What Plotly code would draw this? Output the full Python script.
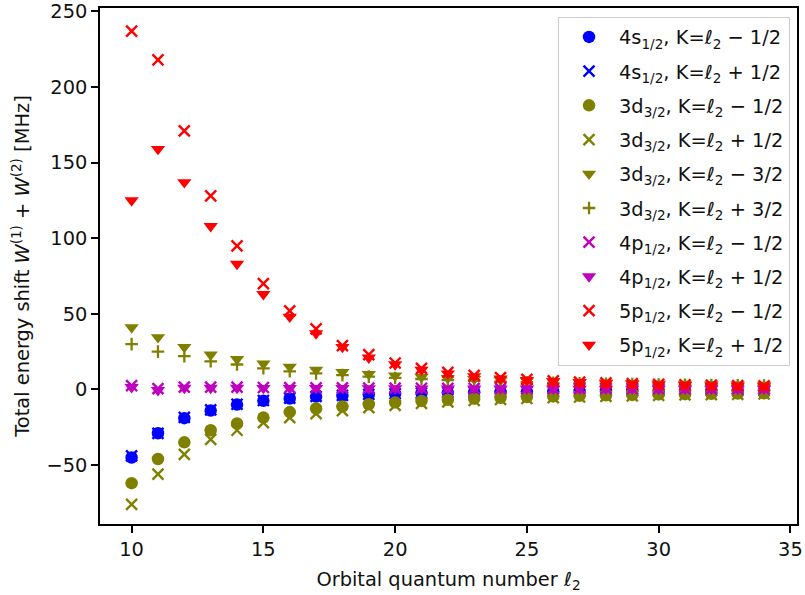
import plotly.graph_objects as go

l2 = list(range(10, 35))

s4_minus = [-45, -29, -19, -14, -10, -7.5, -6, -4.7, -4, -3.3, -2.8, -2.4, -2.1, -1.8, -1.6, -1.4, -1.3, -1.1, -1.0, -0.9, -0.85, -0.8, -0.7, -0.65, -0.6]
s4_plus = [-44, -29, -18.5, -13.5, -9.8, -7.3, -5.8, -4.6, -3.9, -3.2, -2.7, -2.3, -2.0, -1.8, -1.5, -1.4, -1.2, -1.1, -1.0, -0.9, -0.8, -0.75, -0.7, -0.6, -0.55]
d3_minus = [-62, -46, -35, -27, -22.5, -18.6, -15, -12.6, -11.3, -9.8, -8.6, -7.6, -6.8, -6.1, -5.5, -5.0, -4.6, -4.2, -3.9, -3.6, -3.3, -3.1, -2.9, -2.7, -2.5]
d3_plus = [-76, -56, -43, -33, -27, -22, -18.6, -16, -14, -12, -10.5, -9.2, -8.2, -7.3, -6.6, -6.0, -5.4, -5.0, -4.6, -4.2, -3.9, -3.6, -3.4, -3.2, -3.0]
d3_minus3 = [41, 34.5, 28, 23, 20, 17, 15, 13, 11.5, 10.2, 9.2, 8.3, 7.5, 6.8, 6.2, 5.7, 5.3, 4.9, 4.5, 4.2, 3.9, 3.7, 3.4, 3.2, 3.0]
d3_plus3 = [30, 25, 22, 18.6, 16.5, 14, 12, 10.6, 9.5, 8.5, 7.6, 6.9, 6.2, 5.7, 5.2, 4.8, 4.4, 4.1, 3.8, 3.5, 3.3, 3.1, 2.9, 2.7, 2.5]
p4_minus = [2.5, 0.5, 1.5, 1.5, 1.5, 1.3, 1.2, 1.1, 1.0, 0.9, 0.85, 0.8, 0.75, 0.7, 0.65, 0.6, 0.55, 0.5, 0.5, 0.45, 0.45, 0.4, 0.4, 0.35, 0.35]
p4_plus = [1.5, -0.5, 1.0, 1.0, 1.0, 0.9, 0.9, 0.8, 0.8, 0.7, 0.7, 0.6, 0.6, 0.55, 0.5, 0.5, 0.45, 0.45, 0.4, 0.4, 0.35, 0.35, 0.3, 0.3, 0.3]
p5_minus = [237, 218, 171, 128, 95, 70, 52, 40, 29, 23, 17.5, 14, 11.3, 9.3, 7.8, 6.6, 5.7, 4.9, 4.3, 3.8, 3.4, 3.1, 2.8, 2.5, 2.3]
p5_plus = [125, 159, 137, 108, 83, 63, 48, 37, 28, 21, 16.5, 13, 10.5, 8.6, 7.2, 6.1, 5.3, 4.6, 4.0, 3.6, 3.2, 2.9, 2.6, 2.3, 2.1]

BLUE = "#0000ff"
OLIVE = "#808000"
MAG = "#bf00bf"
RED = "#ff0000"

series = [
    ("4s<sub>1/2</sub>, K=<i>ℓ</i><sub>2</sub> − 1/2", s4_minus, BLUE, "circle"),
    ("4s<sub>1/2</sub>, K=<i>ℓ</i><sub>2</sub> + 1/2", s4_plus, BLUE, "x-thin"),
    ("3d<sub>3/2</sub>, K=<i>ℓ</i><sub>2</sub> − 1/2", d3_minus, OLIVE, "circle"),
    ("3d<sub>3/2</sub>, K=<i>ℓ</i><sub>2</sub> + 1/2", d3_plus, OLIVE, "x-thin"),
    ("3d<sub>3/2</sub>, K=<i>ℓ</i><sub>2</sub> − 3/2", d3_minus3, OLIVE, "triangle-down"),
    ("3d<sub>3/2</sub>, K=<i>ℓ</i><sub>2</sub> + 3/2", d3_plus3, OLIVE, "cross-thin"),
    ("4p<sub>1/2</sub>, K=<i>ℓ</i><sub>2</sub> − 1/2", p4_minus, MAG, "x-thin"),
    ("4p<sub>1/2</sub>, K=<i>ℓ</i><sub>2</sub> + 1/2", p4_plus, MAG, "triangle-down"),
    ("5p<sub>1/2</sub>, K=<i>ℓ</i><sub>2</sub> − 1/2", p5_minus, RED, "x-thin"),
    ("5p<sub>1/2</sub>, K=<i>ℓ</i><sub>2</sub> + 1/2", p5_plus, RED, "triangle-down"),
]

fig = go.Figure()
for i, (name, ys, col, sym) in enumerate(series):
    if sym == "x-thin":
        marker = dict(symbol=sym, size=11, color=col, line=dict(color=col, width=2.4))
    elif sym == "cross-thin":
        marker = dict(symbol=sym, size=9, color=col, line=dict(color=col, width=2.3))
    else:
        marker = dict(symbol=sym, size=12.5, color=col, line=dict(width=0))
    fig.add_trace(go.Scatter(x=l2, y=ys, mode="markers", name=name, marker=marker,
                             legendgroup="g%d" % i))

FS = 19.4
axis_common = dict(showline=True, linecolor="black", linewidth=1.5, mirror=True,
                   ticks="outside", ticklen=7, tickwidth=1.5, tickcolor="black",
                   showgrid=False, zeroline=False, automargin=False,
                   tickfont=dict(family="DejaVu Sans", size=FS, color="#111111"))

fig.update_layout(
    width=805, height=595,
    margin=dict(l=100, r=8, t=8, b=71),
    plot_bgcolor="white", paper_bgcolor="white",
    font=dict(family="DejaVu Sans", size=FS, color="#111111"),
    xaxis=dict(range=[8.8, 35.25], tickvals=[10, 15, 20, 25, 30, 35],
               title=dict(text="Orbital quantum number <i>ℓ</i><sub>2</sub>", standoff=12,
                          font=dict(size=FS)), **axis_common),
    yaxis=dict(range=[-89, 252.3], tickvals=[-50, 0, 50, 100, 150, 200, 250],
               title=dict(text="Total energy shift <i>W</i><sup>(1)</sup> + <i>W</i><sup>(2)</sup> [MHz]",
                          standoff=12, font=dict(size=FS)), **axis_common),
    legend=dict(x=0.99, y=0.983, xanchor="right", yanchor="top",
                bgcolor="rgba(255,255,255,0.8)", bordercolor="#cccccc", borderwidth=1,
                font=dict(family="DejaVu Sans", size=FS, color="#111111"),
                tracegroupgap=6, itemwidth=50),
    showlegend=True,
)

fig.write_html("out.html")
